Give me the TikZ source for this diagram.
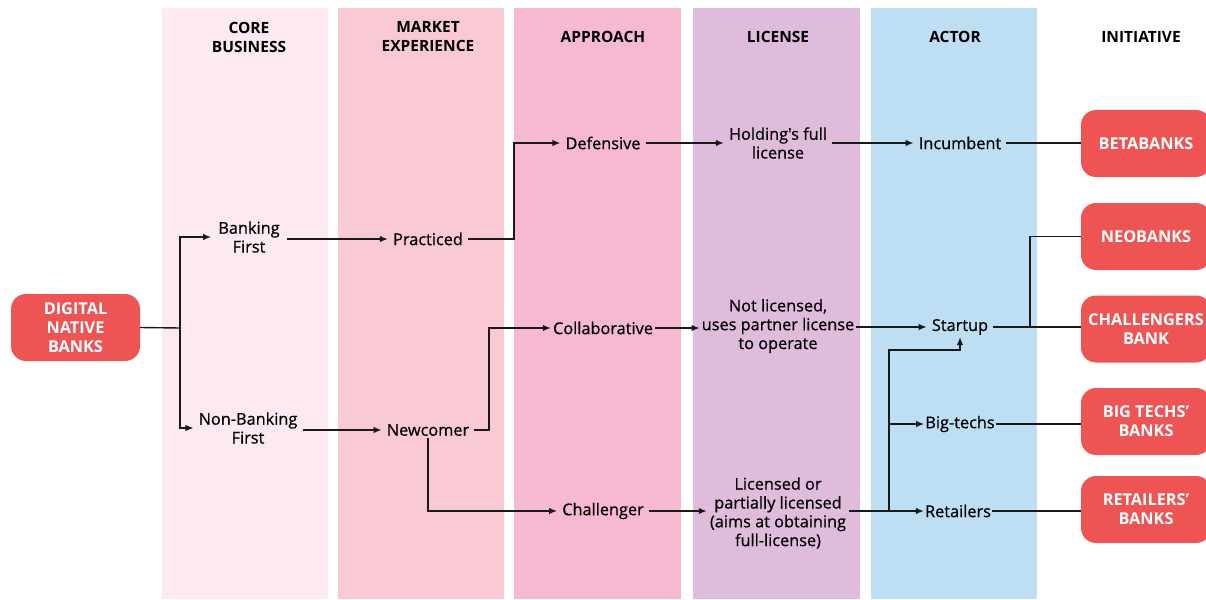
\documentclass[tikz,border=0pt]{standalone}
\usepackage{fontspec}
\setmainfont{Open Sans}
\newfontfamily\semib{Open Sans}[FakeBold=0.6]
\usetikzlibrary{arrows.meta}
\definecolor{ccore}{HTML}{FDEAEF}
\definecolor{cmarket}{HTML}{F9CAD4}
\definecolor{cappr}{HTML}{F7B8D2}
\definecolor{clic}{HTML}{DFBCDB}
\definecolor{cactor}{HTML}{BEDEF4}
\definecolor{cred}{HTML}{EF5455}
\tikzset{
  hdr/.style={font=\fontsize{15.5}{19}\selectfont\bfseries, align=center, inner sep=0pt},
  lbl/.style={font=\fontsize{16.3}{18.8}\selectfont\semib, align=center, inner xsep=5pt, inner ysep=2pt},
  rbox/.style={fill=cred, rounded corners=15pt, text=white, font=\fontsize{16.3}{18.8}\selectfont\bfseries, align=center, inner sep=0pt, minimum height=67pt},
  conn/.style={line width=1.4pt, draw=black!90},
  arr/.style={conn, -{Latex[length=8pt,width=6.5pt]}},
}
\begin{document}
\begin{tikzpicture}[x=1pt,y=-1pt]
\useasboundingbox (0,0) rectangle (1206,599);
\fill[white] (0,0) rectangle (1206,599);
% columns
\fill[ccore]   (162,8) rectangle (328,599);
\fill[cmarket] (338,8) rectangle (504,599);
\fill[cappr]   (514,8) rectangle (681,599);
\fill[clic]    (693,8) rectangle (860,599);
\fill[cactor]  (871,8) rectangle (1037,599);
% headers
\node[hdr] (h1) at (249,37) {CORE\\BUSINESS};
\node[hdr] (h2) at (428,37) {MARKET\\EXPERIENCE};
\node[hdr] (h3) at (603,37) {APPROACH};
\node[hdr] (h4) at (778,37) {LICENSE};
\node[hdr] (h5) at (955,37) {ACTOR};
\node[hdr] (h6) at (1141,37) {INITIATIVE};
% red boxes
\node[rbox, minimum width=129pt] (dnb) at (75.5,327.5) {DIGITAL\\NATIVE\\BANKS};
\node[rbox, minimum width=130pt] (beta) at (1146,143.5) {BETABANKS};
\node[rbox, minimum width=130pt] (neo) at (1146,236.5) {NEOBANKS};
\node[rbox, minimum width=130pt] (chal) at (1146,329) {CHALLENGERS\\BANK};
\node[rbox, minimum width=130pt] (big) at (1146,421.5) {BIG TECHS'\\BANKS};
\node[rbox, minimum width=130pt] (retb) at (1146,509.5) {RETAILERS'\\BANKS};
% labels
\node[lbl, inner xsep=7pt] (bf) at (249,237) {Banking\\First};
\node[lbl] (nbf) at (248,428) {Non-Banking\\First};
\node[lbl] (pr) at (428,239) {Practiced};
\node[lbl] (nc) at (428,430) {Newcomer};
\node[lbl] (def) at (603,143) {Defensive};
\node[lbl, inner xsep=2pt] (col) at (603,328) {Collaborative};
\node[lbl] (cha) at (603,511) {Challenger};
\node[lbl] (hold) at (778,143) {Holding's full\\license};
\node[lbl, inner xsep=2pt] (notl) at (778,326) {Not licensed,\\uses partner license\\to operate};
\node[lbl, inner xsep=3pt] (lic) at (778,513) {Licensed or\\partially licensed\\(aims at obtaining\\full-license)};
\node[lbl] (inc) at (960,143) {Incumbent};
\node[lbl] (st) at (960,327) {Startup};
\node[lbl, inner xsep=1pt] (bt) at (960,424) {Big-techs};
\node[lbl, inner xsep=1pt] (ret) at (958,511) {Retailers};
% junction coordinates
\coordinate (j1) at (180,328);
\coordinate (j2) at (514,0);
\coordinate (j3) at (489,0);
\coordinate (j5) at (889,511);
\coordinate (j6) at (1030,327);
% connectors
\draw[conn] (dnb.east) -- (j1);
\draw[arr] (j1) |- (bf.west);
\draw[arr] (j1) |- (nbf.west);
\draw[arr] (bf.east |- pr.west) -- (pr.west);
\draw[arr] (nbf.east |- nc.west) -- (nc.west);
\draw[arr] (pr.east) -- (pr.east -| j2) |- (def.west);
\draw[arr] (nc.east) -- (nc.east -| j3) |- (col.west);
\draw[arr] (nc.south) |- (cha.west);
\draw[arr] (def.east) -- (hold.west |- def.east);
\draw[arr] (col.east) -- (notl.west |- col.east);
\draw[arr] (cha.east) -- (lic.west |- cha.east);
\draw[arr] (hold.east |- inc.west) -- (inc.west);
\draw[arr] (notl.east |- st.west) -- (st.west);
\draw[conn] (lic.east |- j5) -- (j5);
\draw[arr] (j5) -- (ret.west);
\draw[arr] (j5) |- (bt.west);
\draw[arr] (j5) |- ([yshift=-13pt]st.south) -- (st.south);
\draw[conn] (inc.east) -- (beta.west |- inc.east);
\draw[conn] (st.east) -- (j6) -- (chal.west |- j6);
\draw[conn] (j6) |- (neo.west);
\draw[conn] (bt.east) -- (big.west |- bt.east);
\draw[conn] (ret.east) -- (retb.west |- ret.east);
\end{tikzpicture}
\end{document}
